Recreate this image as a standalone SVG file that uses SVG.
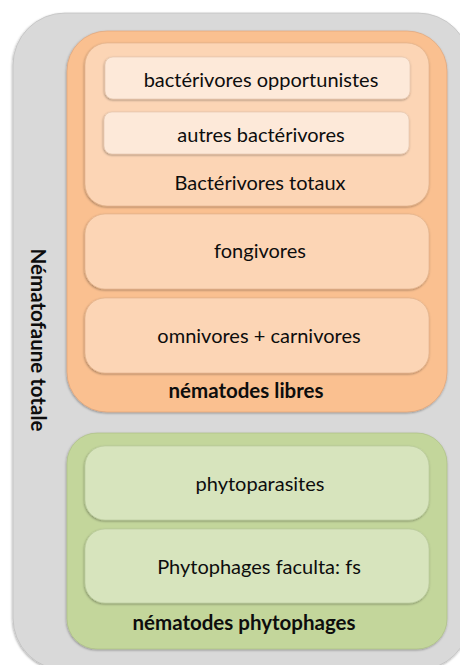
<svg xmlns="http://www.w3.org/2000/svg" width="460" height="665" viewBox="0 0 460 665">
<defs>
<filter id="sh" x="-10%" y="-10%" width="120%" height="120%">
<feDropShadow dx="-0.5" dy="1" stdDeviation="1.2" flood-color="#000" flood-opacity="0.35"/>
</filter>
</defs>
<style>
.t{font-family:Lato,"Open Sans","Liberation Sans",sans-serif;font-size:20px;fill:#0d0d0d;text-anchor:middle}
.b{font-weight:bold;font-size:20.5px}
.box{filter:url(#sh);stroke-width:0.6}
.grey{fill:#d9d9d9;stroke:#b8b8b8}
.o1{fill:#fac090;stroke:#e0a070}
.o2{fill:#fcd5b5;stroke:#dfb08a}
.o3{fill:#fde9d9;stroke:#e3c4ad}
.g1{fill:#c3d69b;stroke:#a9bd80}
.g2{fill:#d7e4bd;stroke:#b7c79a}
</style>
<rect width="460" height="665" fill="#ffffff"/>
<g id="nematofaune-totale">
<rect class="box grey" x="13" y="13" width="457" height="657" rx="52"/>
<text class="t b" transform="translate(31,340) rotate(90)">Nématofaune totale</text>
</g>
<g id="nematodes-libres">
<rect class="box o1" x="67" y="31" width="380" height="381" rx="40"/>
<text class="t b" x="246" y="398">nématodes libres</text>
</g>
<g id="bacterivores-totaux">
<rect class="box o2" x="85" y="43" width="344" height="163" rx="22"/>
<text class="t" x="260" y="190">Bactérivores totaux</text>
</g>
<g id="bacterivores-opportunistes">
<rect class="box o3" x="105" y="57" width="305" height="42" rx="8"/>
<text class="t" x="261" y="87">bactérivores opportunistes</text>
</g>
<g id="autres-bacterivores">
<rect class="box o3" x="104" y="112" width="305" height="42" rx="8"/>
<text class="t" x="261" y="142">autres bactérivores</text>
</g>
<g id="fongivores">
<rect class="box o2" x="85" y="214" width="344" height="75" rx="20"/>
<text class="t" x="260" y="258">fongivores</text>
</g>
<g id="omnivores-carnivores">
<rect class="box o2" x="85" y="298" width="344" height="75" rx="20"/>
<text class="t" x="259" y="343">omnivores + carnivores</text>
</g>
<g id="nematodes-phytophages">
<rect class="box g1" x="67" y="433" width="380" height="216" rx="30"/>
<text class="t b" x="244" y="630">nématodes phytophages</text>
</g>
<g id="phytoparasites">
<rect class="box g2" x="85" y="446" width="344" height="74" rx="20"/>
<text class="t" x="260" y="491">phytoparasites</text>
</g>
<g id="phytophages-facultatifs">
<rect class="box g2" x="85" y="529" width="344" height="74" rx="20"/>
<text class="t" x="259" y="574">Phytophages faculta: fs</text>
</g>
<g id="connectors"/>
</svg>
